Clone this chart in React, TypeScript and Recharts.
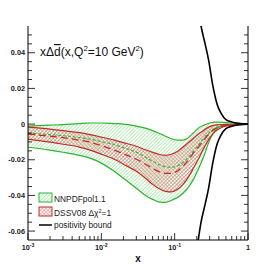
import React from "react";
import { ComposedChart, Area, Line, XAxis, YAxis } from "recharts";

// x grid (log scale) shared by both bands
const xs = [0.001, 0.002, 0.003, 0.005, 0.007, 0.01, 0.015, 0.02, 0.03, 0.04, 0.05, 0.06, 0.075, 0.09, 0.11, 0.13, 0.15, 0.18, 0.21, 0.25, 0.3, 0.35, 0.4, 0.5, 0.6, 0.8, 1];

// NNPDFpol1.1 band
const nnpdfHi = [-0.0011, -0.0006, -0.0003, 0.0003, 0.0006, 0.0006, 0.0003, 0, -0.0011, -0.0023, -0.0037, -0.005, -0.0068, -0.0082, -0.009, -0.009, -0.0079, -0.005, -0.0023, -0.0006, 0.0006, 0.0011, 0.0011, 0.0008, 0.0006, 0.0003, 0];
const nnpdfLo = [-0.013, -0.0146, -0.0158, -0.0175, -0.0191, -0.0219, -0.0265, -0.0304, -0.036, -0.04, -0.0422, -0.0436, -0.0439, -0.0428, -0.0411, -0.0388, -0.036, -0.031, -0.0253, -0.018, -0.009, -0.0039, -0.0017, -0.0006, -0.0003, -0.0001, 0];
const nnpdfMid = [-0.0051, -0.0059, -0.0065, -0.0076, -0.0084, -0.0099, -0.0115, -0.0132, -0.0158, -0.0186, -0.0208, -0.0225, -0.0239, -0.0242, -0.0234, -0.0214, -0.0191, -0.0152, -0.0118, -0.0079, -0.0045, -0.0025, -0.0014, -0.0006, -0.0003, -0.0001, 0];

// DSSV08 band
const dssvHi = [-0.0017, -0.0028, -0.0037, -0.0048, -0.0059, -0.0073, -0.009, -0.0104, -0.0124, -0.0144, -0.0158, -0.0169, -0.0175, -0.0169, -0.0152, -0.0129, -0.0107, -0.0079, -0.0056, -0.0034, -0.0014, -0.0006, -0.0003, -0.0002, -0.0001, 0, 0];
const dssvLo = [-0.0084, -0.0101, -0.0113, -0.0129, -0.0146, -0.0169, -0.0197, -0.0225, -0.0265, -0.0304, -0.0338, -0.036, -0.0377, -0.038, -0.0366, -0.0338, -0.0304, -0.0248, -0.0197, -0.0135, -0.0079, -0.0045, -0.0028, -0.0011, -0.0006, -0.0003, 0];
const dssvMid = [-0.0056, -0.0068, -0.0076, -0.009, -0.0101, -0.0121, -0.0146, -0.0166, -0.0197, -0.0225, -0.0248, -0.0265, -0.0276, -0.0276, -0.0262, -0.0236, -0.0208, -0.0163, -0.0129, -0.009, -0.0051, -0.0028, -0.0017, -0.0008, -0.0005, -0.0002, 0];

// positivity bound
const boundX = [0.19, 0.208, 0.229, 0.26, 0.29, 0.33, 0.38, 0.43, 0.5, 0.6, 0.75, 1];
const boundHi = [0.078, 0.066, 0.055, 0.045, 0.036, 0.022, 0.011, 0.006, 0.0025, 0.0012, 0.0004, 0];
const boundLo = [-0.078, -0.066, -0.055, -0.045, -0.036, -0.022, -0.011, -0.006, -0.0025, -0.0012, -0.0004, 0];

// axis ticks
const xDecades = [0.001, 0.01, 0.1];
const xMult = [1, 2, 3, 4, 5, 6, 7, 8, 9];
const xTicks = [...xDecades.flatMap((d) => xMult.map((m) => m * d)), 1];
const yTicks = [-0.06, -0.055, -0.05, -0.045, -0.04, -0.035, -0.03, -0.025, -0.02, -0.015, -0.01, -0.005, 0, 0.005, 0.01, 0.015, 0.02, 0.025, 0.03, 0.035, 0.04, 0.045, 0.05];
const yMajor = [-0.06, -0.04, -0.02, 0, 0.02, 0.04];
const yLabels = ["-0.06", "-0.04", "-0.02", "0", "0.02", "0.04"];

const data = xs.map((x, i) => ({
  x,
  nnpdf: [nnpdfLo[i], nnpdfHi[i]],
  nnpdfHi: nnpdfHi[i],
  nnpdfLo: nnpdfLo[i],
  nnpdfMid: nnpdfMid[i],
  dssv: [dssvLo[i], dssvHi[i]],
  dssvHi: dssvHi[i],
  dssvLo: dssvLo[i],
  dssvMid: dssvMid[i],
}));
const boundData = boundX.map((x, i) => ({ x, hi: boundHi[i], lo: boundLo[i] }));

const GREEN = "#2cb52c";
const GREEN_HATCH = "#74dc74";
const RED = "#c22a2a";
const RED_HATCH = "#d65050";
const FONT = "'Liberation Sans', Arial, sans-serif";

const isMajorX = (v: number) => Math.abs(Math.log10(v) - Math.round(Math.log10(v))) < 1e-9;
const findMajorY = (v: number) => yMajor.findIndex((m) => Math.abs(m - v) < 1e-9);

const BottomTick = ({ x, y, payload }: any) => {
  const v = payload.value;
  const major = isMajorX(v);
  const e = Math.round(Math.log10(v));
  return (
    <g>
      <line x1={x} x2={x} y1={y} y2={y - (major ? 7 : 4)} stroke="#000" strokeWidth={0.8} />
      {major && (
        <text x={x} y={y + 10} textAnchor="middle" fontSize={7.3} fontWeight="bold" fontFamily={FONT} fill="#222">
          {e === 0 ? "1" : (
            <>
              10<tspan fontSize={5.2} dy={-3}>{e}</tspan>
            </>
          )}
        </text>
      )}
    </g>
  );
};

const TopTick = ({ x, y, payload }: any) => {
  const major = isMajorX(payload.value);
  return <line x1={x} x2={x} y1={y} y2={y + (major ? 7 : 4)} stroke="#000" strokeWidth={0.8} />;
};

const LeftTick = ({ x, y, payload }: any) => {
  const idx = findMajorY(payload.value);
  return (
    <g>
      <line x1={x} x2={x + (idx >= 0 ? 7 : 4)} y1={y} y2={y} stroke="#000" strokeWidth={0.8} />
      {idx >= 0 && (
        <text x={x - 3} y={y + 2.5} textAnchor="end" fontSize={7.3} fontWeight="bold" fontFamily={FONT} fill="#222">
          {yLabels[idx]}
        </text>
      )}
    </g>
  );
};

const RightTick = ({ x, y, payload }: any) => {
  const idx = findMajorY(payload.value);
  return <line x1={x} x2={x - (idx >= 0 ? 7 : 4)} y1={y} y2={y} stroke="#000" strokeWidth={0.8} />;
};

const Patterns = ({ p }: { p: string }) => (
  <defs>
    <pattern id={`${p}G`} patternUnits="userSpaceOnUse" width={2.5} height={2.5} patternTransform="rotate(45)">
      <line x1={0} y1={0} x2={0} y2={2.5} stroke={GREEN_HATCH} strokeWidth={1} />
    </pattern>
    <pattern id={`${p}R`} patternUnits="userSpaceOnUse" width={2.6} height={2.6} patternTransform="rotate(45)">
      <line x1={0} y1={0} x2={0} y2={2.6} stroke={RED_HATCH} strokeWidth={0.7} />
      <line x1={0} y1={0} x2={2.6} y2={0} stroke={RED_HATCH} strokeWidth={0.7} />
    </pattern>
  </defs>
);

export default function App() {
  return (
    <div style={{ position: "absolute", left: 0, top: 0, width: 276, height: 267, background: "#fff" }}>
      <ComposedChart width={276} height={267} data={data} margin={{ top: 26, right: 0, bottom: 0, left: 0 }}>
        <Patterns p="hatch" />
        <XAxis dataKey="x" type="number" scale="log" domain={[0.001, 1]} ticks={xTicks} interval={0}
          allowDataOverflow height={27} tickSize={0} tickMargin={0} tickLine={false}
          axisLine={{ stroke: "#000" }} tick={<BottomTick />} />
        <XAxis xAxisId="top" orientation="top" dataKey="x" type="number" scale="log" domain={[0.001, 1]}
          ticks={xTicks} interval={0} allowDataOverflow height={0} tickSize={0} tickMargin={0} tickLine={false}
          axisLine={{ stroke: "#000" }} tick={<TopTick />} />
        <YAxis type="number" domain={[-0.065, 0.055]} ticks={yTicks} interval={0} allowDataOverflow width={28}
          tickSize={0} tickMargin={0} tickLine={false} axisLine={{ stroke: "#000" }} tick={<LeftTick />} />
        <YAxis yAxisId="right" orientation="right" type="number" domain={[-0.065, 0.055]} ticks={yTicks}
          interval={0} allowDataOverflow width={28} tickSize={0} tickMargin={0} tickLine={false}
          axisLine={{ stroke: "#000" }} tick={<RightTick />} />

        <Area dataKey="nnpdf" type="monotone" stroke="none" fill="url(#hatchG)" fillOpacity={1} isAnimationActive={false} />
        <Area dataKey="dssv" type="monotone" stroke="none" fill="url(#hatchR)" fillOpacity={1} isAnimationActive={false} />

        <Line dataKey="nnpdfHi" type="monotone" stroke={GREEN} strokeWidth={1.2} dot={false} isAnimationActive={false} />
        <Line dataKey="nnpdfLo" type="monotone" stroke={GREEN} strokeWidth={1.2} dot={false} isAnimationActive={false} />
        <Line dataKey="nnpdfMid" type="monotone" stroke={GREEN} strokeWidth={1.1} strokeDasharray="3 2" dot={false} isAnimationActive={false} />
        <Line dataKey="dssvHi" type="monotone" stroke={RED} strokeWidth={1.2} dot={false} isAnimationActive={false} />
        <Line dataKey="dssvLo" type="monotone" stroke={RED} strokeWidth={1.2} dot={false} isAnimationActive={false} />
        <Line dataKey="dssvMid" type="monotone" stroke={RED} strokeWidth={1.3} strokeDasharray="7 4" dot={false} isAnimationActive={false} />

        <Line data={boundData} dataKey="hi" type="monotone" stroke="#000" strokeWidth={1.6} dot={false} isAnimationActive={false} />
        <Line data={boundData} dataKey="lo" type="monotone" stroke="#000" strokeWidth={1.6} dot={false} isAnimationActive={false} />
      </ComposedChart>

      <svg width={276} height={267} style={{ position: "absolute", left: 0, top: 0, pointerEvents: "none" }} fontFamily={FONT}>
        <Patterns p="leg" />
        <text x={40} y={56} fontSize={12} fill="#111">
          xΔ<tspan style={{ textDecoration: "overline" }}>d</tspan>(x,Q<tspan fontSize={7.8} dy={-4.8}>2</tspan>
          <tspan dy={4.8}>=10 GeV</tspan><tspan fontSize={7.8} dy={-4.8}>2</tspan><tspan dy={4.8}>)</tspan>
        </text>

        <rect x={39} y={193} width={13} height={9} fill="url(#legG)" stroke={GREEN} strokeWidth={1} />
        <text x={54} y={202} fontSize={8.4} fill="#222">NNPDFpol1.1</text>
        <rect x={39} y={207} width={13} height={9} fill="url(#legR)" stroke={RED} strokeWidth={1} />
        <text x={54} y={216} fontSize={8.4} fill="#222">
          DSSV08 Δχ<tspan fontSize={5.6} dy={-3}>2</tspan><tspan dy={3}>=1</tspan>
        </text>
        <line x1={39} x2={52} y1={225} y2={225} stroke="#000" strokeWidth={1.5} />
        <text x={54} y={228} fontSize={8.4} fill="#222">positivity bound</text>

        <text x={138} y={262} textAnchor="middle" fontSize={10} fontWeight="bold" fill="#111">x</text>
      </svg>
    </div>
  );
}
